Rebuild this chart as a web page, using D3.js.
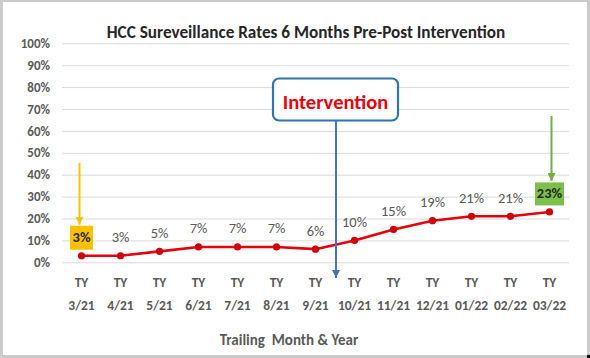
<!DOCTYPE html>
<html><head><meta charset="utf-8">
<script src="https://cdn.jsdelivr.net/npm/d3@7"></script>
<style>
html,body{margin:0;padding:0;background:#fff;}
svg{display:block;}
text{font-family:Carlito, Lato, "Open Sans", sans-serif;}
</style></head>
<body>
<svg id="chart" width="590" height="358"></svg>
<script>
const categories = ["3/21","4/21","5/21","6/21","7/21","8/21","9/21","10/21","11/21","12/21","01/22","02/22","03/22"];
const prefix = "TY";
const rates = [3,3,5,7,7,7,6,10,15,19,21,21,23];
const yTicks = [0,10,20,30,40,50,60,70,80,90,100];
const title = "HCC Sureveillance Rates 6 Months Pre-Post Intervention";
const xTitle = "Trailing  Month & Year";
const interventionLabel = "Intervention";
const interventionAfter = "9/21"; // arrow falls between 9/21 and 10/21
const startCat = "3/21", endCat = "03/22";

const svg = d3.select("#chart");
const W = 590, H = 358;

// frame
svg.append("rect").attr("x",0).attr("y",0).attr("width",W).attr("height",H).attr("fill","#cbcbcb");
svg.append("rect").attr("x",3).attr("y",2).attr("width",584).attr("height",353).attr("fill","#ffffff");
svg.append("rect").attr("x",587).attr("y",355).attr("width",3).attr("height",3).attr("fill","#111");

const plot = {left:62, right:569, top:43.3, bottom:262.3};
const x = d3.scaleBand().domain(categories).range([plot.left, plot.right]).padding(0);
const cx = d => x(d) + x.bandwidth()/2;
const y = d3.scaleLinear().domain([0,100]).range([plot.bottom, plot.top]);

// gridlines + y axis
const yAxis = d3.axisLeft(y).tickValues(yTicks).tickFormat(d => d + "%")
  .tickSize(-(plot.right-plot.left)).tickPadding(12);
const gy = svg.append("g").attr("transform",`translate(${plot.left},0)`).call(yAxis);
gy.select(".domain").remove();
gy.selectAll(".tick line").attr("stroke","#d9d9d9").attr("stroke-width",1);
gy.selectAll(".tick text").attr("fill","#595959").attr("font-size",13).attr("font-weight",600)
  .attr("font-family","Carlito, Lato, sans-serif");

// x axis labels (two lines)
const xAxis = d3.axisBottom(x).tickSize(0).tickFormat("");
const gx = svg.append("g").attr("transform",`translate(0,${plot.bottom})`).call(xAxis);
gx.select(".domain").remove();
gx.selectAll(".tick").each(function(d){
  const t = d3.select(this).append("text").attr("fill","#595959").attr("font-size",13.5)
    .attr("font-weight",600).attr("text-anchor","middle").attr("font-family","Carlito, Lato, sans-serif");
  t.append("tspan").attr("x",0).attr("y",25).text(prefix);
  t.append("tspan").attr("x",0).attr("y",48).text(d);
});

// title
svg.append("text").attr("x",306).attr("y",37.5).attr("text-anchor","middle")
  .attr("font-size",17.2).attr("font-weight",700).attr("fill","#262626").text(title);

// axis title
svg.append("text").attr("x",289).attr("y",344.5).attr("text-anchor","middle")
  .style("white-space","pre")
  .attr("font-size",15).attr("font-weight",600).attr("fill","#595959").text(xTitle);

// line
const line = d3.line().x((d,i)=>cx(categories[i])).y(d=>y(d));
svg.append("path").datum(rates).attr("d",line).attr("fill","none")
  .attr("stroke","#e8000b").attr("stroke-width",2.6).attr("stroke-linejoin","round");
svg.selectAll("circle.pt").data(rates).join("circle").attr("class","pt")
  .attr("cx",(d,i)=>cx(categories[i])).attr("cy",d=>y(d)).attr("r",3.6).attr("fill","#d0000a");

// highlight boxes
svg.append("rect").attr("x",cx(startCat)-11.5).attr("y",y(rates[0])-30).attr("width",23).attr("height",24).attr("fill","#ffc000");
svg.append("rect").attr("x",cx(endCat)-14.5).attr("y",y(rates[rates.length-1])-29.5).attr("width",29).attr("height",23).attr("fill","#7cc04b");

// data labels
svg.selectAll("text.lbl").data(rates).join("text").attr("class","lbl")
  .attr("x",(d,i)=>cx(categories[i])).attr("y",d=>y(d)-13.5)
  .attr("text-anchor","middle").attr("font-size",14.5)
  .attr("fill",(d,i)=> (i===0||i===rates.length-1) ? "#262626" : "#595959")
  .attr("font-weight",(d,i)=> (i===0||i===rates.length-1) ? 700 : 400)
  .text(d=>d+"%");

// arrows
const defs = svg.append("defs");
function marker(id,color){
  defs.append("marker").attr("id",id).attr("viewBox","0 0 10 10").attr("refX",10).attr("refY",5)
    .attr("markerWidth",4).attr("markerHeight",4).attr("orient","auto")
    .append("path").attr("d","M0,0 L10,5 L0,10 z").attr("fill",color);
}
marker("aY","#ffc000"); marker("aG","#70ad47"); marker("aB","#4472c4");
svg.append("line").attr("x1",cx(startCat)-2).attr("x2",cx(startCat)-2).attr("y1",163).attr("y2",y(rates[0])-31)
  .attr("stroke","#ffc000").attr("stroke-width",2).attr("marker-end","url(#aY)");
svg.append("line").attr("x1",cx(endCat)+2).attr("x2",cx(endCat)+2).attr("y1",116).attr("y2",y(rates[12])-31)
  .attr("stroke","#70ad47").attr("stroke-width",2).attr("marker-end","url(#aG)");
const ix = x(interventionAfter) + x.bandwidth();
svg.append("line").attr("x1",ix+1).attr("x2",ix+1).attr("y1",121).attr("y2",278)
  .attr("stroke","#4472c4").attr("stroke-width",2).attr("marker-end","url(#aB)");

// intervention box
svg.append("rect").attr("x",273).attr("y",78.5).attr("width",125).attr("height",42).attr("rx",6)
  .attr("fill","#ffffff").attr("stroke","#2e75b6").attr("stroke-width",2.2);
svg.append("text").attr("x",335.5).attr("y",109).attr("text-anchor","middle")
  .attr("font-size",20.5).attr("font-weight",600).attr("fill","#e8000b").text(interventionLabel);
</script>
</body></html>
